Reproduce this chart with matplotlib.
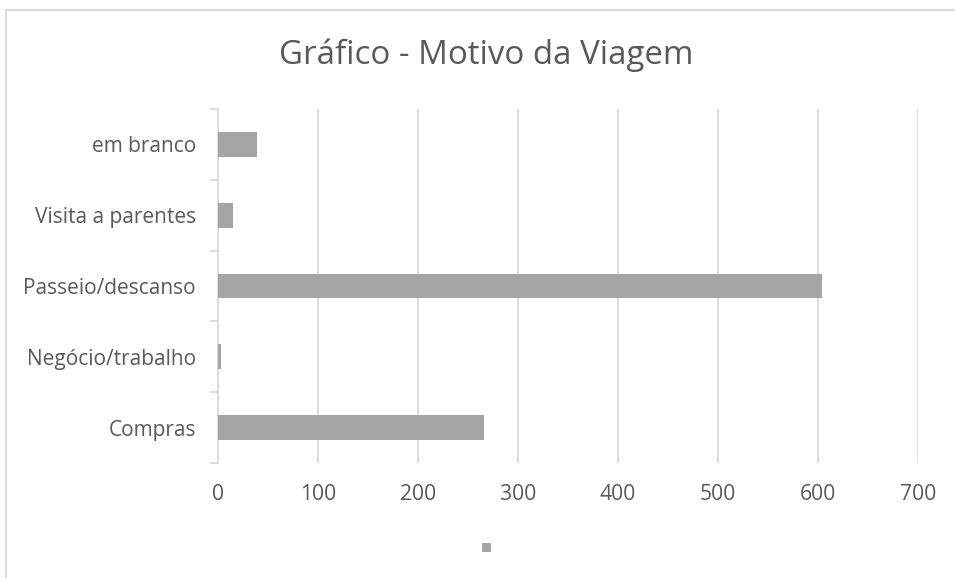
import matplotlib.pyplot as plt
from matplotlib.patches import Rectangle
import numpy as np

# dados do gráfico
categorias = ['Compras', 'Negócio/trabalho', 'Passeio/descanso',
              'Visita a parentes', 'em branco']
valores = [266, 2.5, 604, 14.5, 38.5]
titulo = 'Gráfico - Motivo da Viagem'

cor_barra = '#a5a5a5'
cor_texto = '#595959'
cor_grade = '#d9d9d9'

plt.rcParams['font.family'] = ['Open Sans', 'DejaVu Sans']

fig = plt.figure(figsize=(9.55, 5.78), dpi=100)
ax = fig.add_axes([218 / 955, 1 - 463 / 578, 700 / 955, 354 / 578])

pos = np.arange(len(categorias))
ax.barh(pos, valores, height=0.353, color=cor_barra, zorder=3)

ax.set_xlim(0, 700)
ax.set_ylim(-0.5, len(categorias) - 0.5)

# grade vertical
ax.set_xticks(np.arange(0, 701, 100))
for v in range(100, 701, 100):
    ax.axvline(v, color=cor_grade, lw=1.3, zorder=1)
ax.tick_params(axis='x', length=0, pad=15, labelsize=15.2, labelcolor=cor_texto)

# eixo das categorias: marcas nas divisões, rótulos no centro
ax.set_yticks(np.arange(-0.5, len(categorias), 1))
ax.set_yticklabels([])
ax.tick_params(axis='y', which='major', length=6, width=1.3, color=cor_grade)
ax.set_yticks(pos, minor=True)
ax.set_yticklabels(categorias, minor=True)
ax.tick_params(axis='y', which='minor', length=0, pad=16, labelsize=15,
               labelcolor=cor_texto)

for lado in ['top', 'right', 'bottom']:
    ax.spines[lado].set_visible(False)
ax.spines['left'].set_color(cor_grade)
ax.spines['left'].set_linewidth(1.3)

fig.text(486 / 955, 1 - 55 / 578, titulo, ha='center', va='center',
         fontsize=23.8, color=cor_texto)

# legenda sem texto (só o quadradinho)
fig.patches.append(Rectangle((482 / 955, 1 - 552 / 578), 9 / 955, 9 / 578,
                             transform=fig.transFigure, facecolor=cor_barra,
                             edgecolor='none'))

# borda da área do gráfico
fig.patches.append(Rectangle((5.5 / 955, -0.1), 1.2, 1 - 9.5 / 578 + 0.1,
                             transform=fig.transFigure, facecolor='none',
                             edgecolor=cor_grade, lw=1.5))

fig.savefig('out.png', dpi=100)
